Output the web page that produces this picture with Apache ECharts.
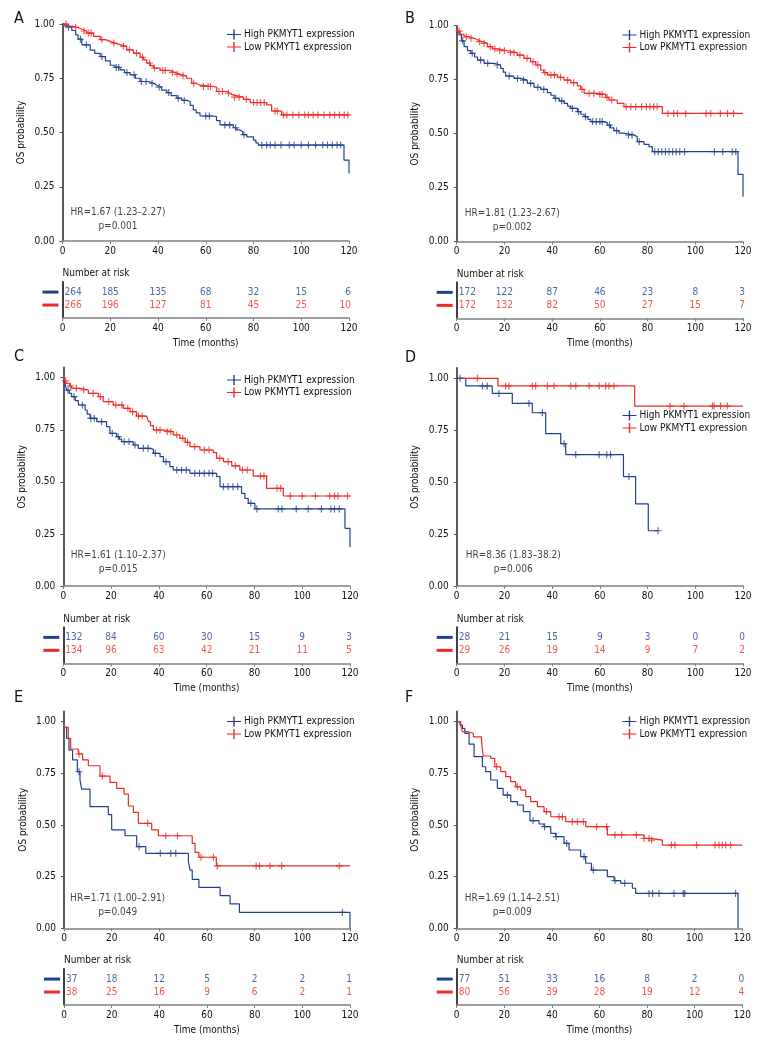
<!DOCTYPE html>
<html>
<head>
<meta charset="utf-8">
<title>PKMYT1 overall survival</title>
<script src="https://cdn.jsdelivr.net/npm/echarts@6/dist/echarts.min.js"></script>
<style>
  html, body { margin: 0; padding: 0; background: #fff; }
  #km-chart { width: 768px; height: 1056px; }
</style>
</head>
<body>
<div id="km-chart"></div>
<script>
// ---- values ----
var timeTicks = [0, 20, 40, 60, 80, 100, 120];
var probTicks = [0, 0.25, 0.5, 0.75, 1];
var groupNames = ['High PKMYT1 expression', 'Low PKMYT1 expression'];
var panelLetters = ['A', 'B', 'C', 'D', 'E', 'F'];

// curves: [time (months), survival after the step]
var aHigh = [[0,1],[1,0.99],[2,0.985],[3.9,0.97],[5.5,0.95],[6.5,0.93],[8.1,0.904],[11.6,0.88],[13.5,0.865],[15.8,0.85],[18,0.83],[20,0.81],[22,0.8],[24.1,0.789],[26,0.776],[28.3,0.766],[30.5,0.75],[32.5,0.735],[36,0.727],[38,0.718],[39.5,0.709],[41.5,0.695],[43.7,0.684],[45.5,0.67],[47.9,0.658],[50,0.648],[52,0.643],[53.5,0.625],[54.8,0.604],[56,0.59],[57.6,0.576],[63.2,0.573],[64.5,0.555],[66,0.535],[71.6,0.522],[73,0.512],[74.4,0.504],[75.5,0.49],[77.2,0.48],[80,0.465],[81,0.452],[82,0.442],[117.9,0.373],[120,0.311]];
var aLow = [[0,1],[2,0.99],[4,0.985],[6,0.977],[8,0.968],[10.2,0.958],[13,0.943],[15.8,0.928],[18,0.92],[20,0.912],[22,0.905],[24.1,0.897],[26.9,0.881],[29.7,0.866],[32.5,0.847],[34,0.835],[35.3,0.82],[36.8,0.808],[38.1,0.797],[40.9,0.786],[45,0.777],[47,0.768],[49.3,0.761],[52,0.75],[54.1,0.727],[56,0.718],[57.6,0.712],[63.2,0.709],[64.6,0.689],[68.8,0.681],[70,0.672],[71.6,0.663],[75.8,0.653],[78.6,0.638],[85.5,0.627],[87.6,0.599],[91.8,0.581],[120,0.581]];
var aHighCensor = [2.5,7.5,10,16.5,22.5,23.5,27,30,33,35,37.5,40.5,44.5,48.5,51,60,61.5,68,70,72.5,76,83.5,85.5,87,89,91.5,95,97,100,103,106,109,111,113,115,116.5];
var aLowCensor = [1.5,5.5,9,11,12,16.5,21.5,25.5,28,31,33.5,36.5,38.5,42,43,46,48,50.5,55,59,61,62,65.5,67,69.5,72,74,77,80,81.5,83,84.5,89,90,92.5,94,96.5,99,101.5,103,105,107,109.5,112,114,116,118,119.5];
var aRiskHigh = [264, 185, 135, 68, 32, 15, 6];
var aRiskLow = [266, 196, 127, 81, 45, 25, 10];

var bHigh = [[0,0.97],[1,0.957],[2,0.93],[3.1,0.903],[4.5,0.885],[5.9,0.872],[7.5,0.855],[8.7,0.841],[11.5,0.826],[15.6,0.818],[18.4,0.802],[19.5,0.785],[20.5,0.767],[24,0.756],[26.8,0.748],[29.6,0.733],[32.4,0.715],[35.2,0.705],[38,0.69],[39.5,0.678],[40.8,0.664],[43,0.652],[45,0.64],[46.5,0.628],[47.8,0.617],[50.6,0.602],[52,0.59],[53.4,0.579],[55,0.566],[56.2,0.556],[61.7,0.551],[63.1,0.54],[64.5,0.527],[65.9,0.514],[68,0.503],[70.1,0.494],[74.3,0.486],[75.7,0.463],[78.5,0.451],[80.6,0.44],[82,0.417],[117.9,0.312],[120,0.208]];
var bLow = [[0,0.975],[1.5,0.96],[3.1,0.949],[5,0.942],[7.3,0.934],[9,0.926],[10.8,0.918],[12.9,0.903],[15,0.893],[17,0.884],[21.2,0.875],[25.4,0.864],[28.2,0.849],[31,0.833],[33.1,0.818],[35.2,0.795],[36.5,0.783],[38,0.772],[42.2,0.761],[45,0.748],[47.8,0.736],[50.6,0.721],[52,0.705],[53.4,0.687],[59,0.682],[62.5,0.668],[63.8,0.656],[67.3,0.64],[70.1,0.625],[86.2,0.594],[120,0.594]];
var bHighCensor = [2.5,6.5,10,13,17,22,25.5,28,31,34,36.5,41.5,44,48.5,51,54,57,58.5,60,61,64,67,72,73.5,76.5,83,84.5,86,87.5,89,90.5,92,93.5,95.5,108,111.5,115.5,117];
var bLowCensor = [1,4,6,9.5,11.5,14,16,18,20,22.5,24,26.5,29.5,32,34,37,39.5,41,43.5,46.5,49,52.5,55.5,57.5,60,61,63,65,71,73,75,77.5,79.5,81,82.5,84,88.5,91,92.5,96,104.5,106.5,110.5,113.5,116];
var bRiskHigh = [172, 122, 87, 46, 23, 8, 3];
var bRiskLow = [172, 132, 82, 50, 27, 15, 7];

var cHigh = [[0,0.989],[0.7,0.97],[1.4,0.94],[2.5,0.925],[3.5,0.909],[5,0.89],[6.3,0.869],[9.1,0.845],[10,0.825],[11.2,0.805],[14,0.789],[18.1,0.765],[19.5,0.733],[22.3,0.717],[23.5,0.705],[24.4,0.693],[29.3,0.677],[31.4,0.661],[36.3,0.656],[37.7,0.637],[40.5,0.621],[41.9,0.597],[44.6,0.573],[46,0.557],[53,0.541],[64.2,0.525],[65.6,0.477],[74.6,0.445],[76,0.42],[77.4,0.397],[80.2,0.37],[117.9,0.277],[120,0.186]];
var cLow = [[0,1],[0.7,0.985],[1.4,0.973],[2.5,0.96],[3.5,0.949],[7,0.941],[10.5,0.925],[14.7,0.909],[16.7,0.885],[20.9,0.869],[25.1,0.853],[27.9,0.837],[30.7,0.816],[34.9,0.81],[35.6,0.789],[36.5,0.77],[37.7,0.749],[41.9,0.741],[46,0.725],[48.8,0.709],[51,0.69],[53,0.669],[57.2,0.653],[62.8,0.64],[64.2,0.613],[67,0.597],[70.5,0.577],[73.9,0.557],[79.5,0.528],[85.1,0.469],[92.1,0.432],[120,0.432]];
var cHighCensor = [2,4.5,8,11.5,13,16,20.5,23,25.5,27.5,30,33.5,35.5,38.5,43,47.5,49.5,51.5,55,57,59,61,62.5,67,69,71,73,78.5,81,90,91.5,97.5,102.5,108,112,113.5,115.5];
var cLowCensor = [1,3,5.5,8.5,12.5,15.5,19,22,24.5,27,29,31.5,33,39,40.5,43.5,45,47.5,50,52,55,59,61,65.5,69,72,75,77,82.5,84,89.5,91,95,100,105.5,111.5,113.5,115,119];
var cRiskHigh = [132, 84, 60, 30, 15, 9, 3];
var cRiskLow = [134, 96, 63, 42, 21, 11, 5];

var dHigh = [[0,1],[3.8,0.963],[14.9,0.927],[23.3,0.879],[31.7,0.834],[37.3,0.734],[43.6,0.685],[45.7,0.632],[69.9,0.527],[75,0.395],[80.3,0.266],[84.4,0.266]];
var dLow = [[0,1],[17.3,0.963],[74.6,0.866],[120,0.866]];
var dHighCensor = [1.4,10.8,12.8,17.7,30.3,35.9,45,49.9,59.7,62.9,64.5,72.2,84.4];
var dLowCensor = [8.7,20.5,21.9,31.7,33.1,38,40.8,47.8,49.9,55.5,59.7,62.4,63.8,65.9,89.4,95.3,107.2,107.9,110.6,113.4];
var dRiskHigh = [28, 21, 15, 9, 3, 0, 0];
var dRiskLow = [29, 26, 19, 14, 9, 7, 2];

var eHigh = [[0,0.973],[1.1,0.919],[2.1,0.863],[3.6,0.815],[5.6,0.758],[6.7,0.718],[7.4,0.674],[10.9,0.589],[18.6,0.55],[20,0.476],[25.6,0.448],[30.5,0.395],[34.3,0.363],[52.2,0.323],[52.9,0.282],[53.8,0.237],[56.6,0.198],[65.5,0.158],[69.7,0.118],[73.6,0.077],[120,0]];
var eLow = [[0,0.973],[1.8,0.919],[2.8,0.868],[6,0.844],[7.8,0.815],[10.2,0.787],[15.1,0.737],[19.3,0.706],[22.1,0.677],[25.2,0.65],[27,0.592],[29.1,0.561],[31.2,0.508],[36.8,0.476],[39.6,0.448],[53.8,0.411],[55,0.368],[56.6,0.344],[63.9,0.302],[120,0.302]];
var eHighCensor = [6.3,31.5,40.4,44.8,46.9,116.8];
var eLowCensor = [6.3,16.1,35.1,42.7,47.6,57.5,62.7,64.3,80.6,82,86.4,91.3,115.5];
var eRiskHigh = [37, 18, 12, 5, 2, 2, 1];
var eRiskLow = [38, 25, 16, 9, 6, 2, 1];

var fHigh = [[0,1],[1.4,0.984],[2.4,0.968],[3.4,0.944],[5.2,0.892],[7.3,0.831],[10.8,0.782],[12.2,0.758],[14.3,0.718],[17.1,0.677],[19.5,0.645],[22.7,0.613],[25.5,0.597],[28,0.565],[30.8,0.521],[34.6,0.505],[36.7,0.492],[39.5,0.46],[41.6,0.444],[45.1,0.411],[47.2,0.379],[52.1,0.347],[54.2,0.315],[56.6,0.282],[63.3,0.25],[66.1,0.231],[68.9,0.218],[73.8,0.194],[75.2,0.169],[118.2,0]];
var fLow = [[0,1],[1.7,0.979],[2.4,0.952],[4.5,0.944],[7,0.927],[10.4,0.911],[11.1,0.834],[14.3,0.823],[16,0.782],[18.5,0.758],[20.6,0.734],[22.7,0.71],[24.8,0.685],[26.9,0.669],[29,0.637],[31.1,0.613],[33.9,0.589],[36.7,0.565],[39.5,0.54],[45.8,0.516],[54.2,0.492],[63.3,0.452],[78.7,0.435],[81.5,0.427],[86.4,0.403],[120,0.403]];
var fHighCensor = [21.3,32.1,36.9,41.8,46.2,53.5,57.4,66.5,70.6,80.8,82.3,85,91.3,95.2,95.8,117.2];
var fLowCensor = [16.8,25.5,37.7,43,44.4,48.6,50.7,53.2,58.8,63,66.5,69.3,75.5,78.7,80.8,81.9,90.2,91.7,100.8,108.5,110.2,111.6,113,115.1];
var fRiskHigh = [77, 51, 33, 16, 8, 2, 0];
var fRiskLow = [80, 56, 39, 28, 19, 12, 4];

// hazard ratio notes and where they sit (months, probability)
var hrTexts = ['HR=1.67 (1.23\u20132.27)', 'HR=1.81 (1.23\u20132.67)', 'HR=1.61 (1.10\u20132.37)', 'HR=8.36 (1.83\u201338.2)', 'HR=1.71 (1.00\u20132.91)', 'HR=1.69 (1.14\u20132.51)'];
var pTexts = ['p=0.001', 'p=0.002', 'p=0.015', 'p=0.006', 'p=0.049', 'p=0.009'];
var notePos = [[23.2, 0.1], [23.3, 0.1], [23, 0.112], [23.7, 0.112], [22.5, 0.11], [23.3, 0.11]];

var panels = [
  { high: aHigh, low: aLow, highCensor: aHighCensor, lowCensor: aLowCensor, riskHigh: aRiskHigh, riskLow: aRiskLow },
  { high: bHigh, low: bLow, highCensor: bHighCensor, lowCensor: bLowCensor, riskHigh: bRiskHigh, riskLow: bRiskLow },
  { high: cHigh, low: cLow, highCensor: cHighCensor, lowCensor: cLowCensor, riskHigh: cRiskHigh, riskLow: cRiskLow },
  { high: dHigh, low: dLow, highCensor: dHighCensor, lowCensor: dLowCensor, riskHigh: dRiskHigh, riskLow: dRiskLow },
  { high: eHigh, low: eLow, highCensor: eHighCensor, lowCensor: eLowCensor, riskHigh: eRiskHigh, riskLow: eRiskLow },
  { high: fHigh, low: fLow, highCensor: fHighCensor, lowCensor: fLowCensor, riskHigh: fRiskHigh, riskLow: fRiskLow }
];

// ---- layout (pixels) ----
var layout = [
  { left: 62.5, width: 286.5, top: 24, height: 217, ymax: 1, riskTop: 281.7, letter: [14, 10.5], legend: [227, 29.5] },
  { left: 456.7, width: 286.3, top: 25.7, height: 216, ymax: 1, riskTop: 282, letter: [405, 10.5], legend: [622.5, 30] },
  { left: 63.3, width: 286.7, top: 367.3, height: 218.7, ymax: 1.05, riskTop: 627, letter: [14, 349], legend: [227, 375] },
  { left: 456.7, width: 286.3, top: 367.9, height: 218.1, ymax: 1.05, riskTop: 627, letter: [405, 349.5], legend: [622.5, 410.5] },
  { left: 64, width: 286, top: 711.4, height: 216.9, ymax: 1.05, riskTop: 968.7, letter: [14, 689.5], legend: [227, 716.5] },
  { left: 456.7, width: 285.6, top: 711.4, height: 216.9, ymax: 1.05, riskTop: 968.7, letter: [405, 689.5], legend: [622.5, 716.5] }
];
var RISK_H = 36.3;
var FS = 10;

var BLUE = '#21408f';
var RED = '#ee2a24';
var FONT = "'Liberation Sans Narrow', 'DejaVu Sans Condensed', 'Liberation Sans', sans-serif";
var PLUS = 'path://M4.2,0H5.8V4.2H10V5.8H5.8V10H4.2V5.8H0V4.2H4.2Z';
var PLUS_LEG = 'path://M0,4.4H6.3V0H7.7V4.4H14V5.6H7.7V10H6.3V5.6H0Z';

function survAt(curve, t) {
  var s = curve[0][1];
  for (var i = 0; i < curve.length; i++) {
    if (curve[i][0] <= t) s = curve[i][1];
  }
  return s;
}

function riskItems(counts, row) {
  return counts.map(function (n, k) {
    var align = k === 0 ? 'left' : (k === counts.length - 1 ? 'right' : 'center');
    var off = k === 0 ? [2, 0] : (k === counts.length - 1 ? [2, 0] : [0, 0]);
    return { value: [timeTicks[k], row], name: String(n), label: { align: align, offset: off } };
  });
}

var grids = [], xAxes = [], yAxes = [], series = [], legends = [], titles = [];

layout.forEach(function (L, i) {
  var P = panels[i];
  var gp = 2 * i, gr = 2 * i + 1;

  grids.push({ left: L.left, top: L.top, width: L.width, height: L.height });
  grids.push({ left: L.left, top: L.riskTop, width: L.width, height: RISK_H });

  var xBase = {
    type: 'value', min: 0, max: 120, interval: 20,
    axisLine: { show: true, onZero: false, lineStyle: { color: '#808080', width: 1.6 } },
    axisTick: { show: true, length: 3, lineStyle: { color: '#808080' } },
    axisLabel: { margin: 5, fontSize: FS, color: '#111', fontFamily: FONT },
    splitLine: { show: false }
  };
  xAxes.push(Object.assign({}, xBase, { gridIndex: gp }));
  xAxes.push(Object.assign({}, xBase, {
    gridIndex: gr, name: 'Time (months)', nameLocation: 'middle', nameGap: 20,
    nameTextStyle: { fontSize: FS, color: '#111', fontFamily: FONT }
  }));

  yAxes.push({
    type: 'value', gridIndex: gp, min: 0, max: L.ymax, interval: 0.25,
    axisLine: { show: true, lineStyle: { color: '#333', width: 1.6 } },
    axisTick: { show: true, length: 3, customValues: probTicks, lineStyle: { color: '#555' } },
    axisLabel: {
      customValues: probTicks, margin: 8, fontSize: FS, color: '#111', fontFamily: FONT,
      formatter: function (v) { return v.toFixed(2); }
    },
    splitLine: { show: false },
    name: 'OS probability', nameLocation: 'middle', nameGap: 36,
    nameTextStyle: { fontSize: FS, color: '#111', fontFamily: FONT }
  });
  yAxes.push({
    type: 'value', gridIndex: gr, min: 0, max: 2.8, interval: 1,
    axisLine: { show: true, lineStyle: { color: '#111', width: 1.6 } },
    axisTick: { show: false },
    axisLabel: {
      customValues: [1, 2], margin: 4,
      formatter: function (v) { return v === 2 ? '{hi| }' : '{lo| }'; },
      rich: {
        hi: { width: 16, height: 3, lineHeight: 3, fontSize: 1, backgroundColor: BLUE },
        lo: { width: 16, height: 3, lineHeight: 3, fontSize: 1, backgroundColor: RED }
      }
    },
    splitLine: { show: false },
    name: 'Number at risk', nameLocation: 'end', nameGap: 3,
    nameTextStyle: { align: 'left', verticalAlign: 'bottom', fontSize: FS, color: '#111', fontFamily: FONT }
  });

  [[P.high, P.highCensor, BLUE, groupNames[0]], [P.low, P.lowCensor, RED, groupNames[1]]].forEach(function (g) {
    series.push({
      type: 'line', name: g[3], xAxisIndex: gp, yAxisIndex: gp, data: g[0],
      step: 'end', showSymbol: false, symbol: 'none', clip: false, silent: true,
      color: g[2], itemStyle: { color: g[2] }, lineStyle: { color: g[2], width: 1.2 }, z: 3
    });
    series.push({
      type: 'scatter', name: g[3], xAxisIndex: gp, yAxisIndex: gp,
      data: g[1].map(function (t) { return [t, survAt(g[0], t)]; }),
      symbol: PLUS, symbolSize: 7, clip: false, silent: true,
      itemStyle: { color: g[2] }, z: 4
    });
  });

  [[P.riskHigh, 2, BLUE], [P.riskLow, 1, RED]].forEach(function (r) {
    series.push({
      type: 'scatter', xAxisIndex: gr, yAxisIndex: gr, data: riskItems(r[0], r[1]),
      symbol: 'circle', symbolSize: 1, silent: true, itemStyle: { color: 'rgba(0,0,0,0)' },
      label: { show: true, position: 'inside', formatter: '{b}', color: r[2], fontSize: FS, fontFamily: FONT }
    });
  });

  series.push({
    type: 'scatter', xAxisIndex: gp, yAxisIndex: gp,
    data: [{ value: notePos[i], name: hrTexts[i] + '\n' + pTexts[i] }],
    symbol: 'circle', symbolSize: 1, silent: true, itemStyle: { color: 'rgba(0,0,0,0)' },
    label: { show: true, position: 'inside', align: 'center', formatter: '{b}', color: '#111', fontSize: FS, lineHeight: 13.7, fontFamily: FONT }
  });

  legends.push({
    left: L.legend[0], top: L.legend[1], orient: 'vertical', padding: 0, itemGap: 2.5,
    itemWidth: 14, itemHeight: 10, selectedMode: false,
    data: [
      { name: groupNames[0], icon: PLUS_LEG, itemStyle: { color: BLUE } },
      { name: groupNames[1], icon: PLUS_LEG, itemStyle: { color: RED } }
    ],
    textStyle: { fontSize: FS, color: '#111', fontFamily: FONT, padding: [0, 0, 0, -2] }
  });

  titles.push({
    text: panelLetters[i], left: L.letter[0], top: L.letter[1], padding: 0,
    textStyle: { fontSize: 16, fontWeight: 'normal', color: '#111', fontFamily: FONT }
  });
});

var chart = echarts.init(document.getElementById('km-chart'));
chart.setOption({
  animation: false,
  backgroundColor: '#fff',
  textStyle: { fontFamily: FONT },
  title: titles,
  legend: legends,
  grid: grids,
  xAxis: xAxes,
  yAxis: yAxes,
  series: series
});
</script>
</body>
</html>
